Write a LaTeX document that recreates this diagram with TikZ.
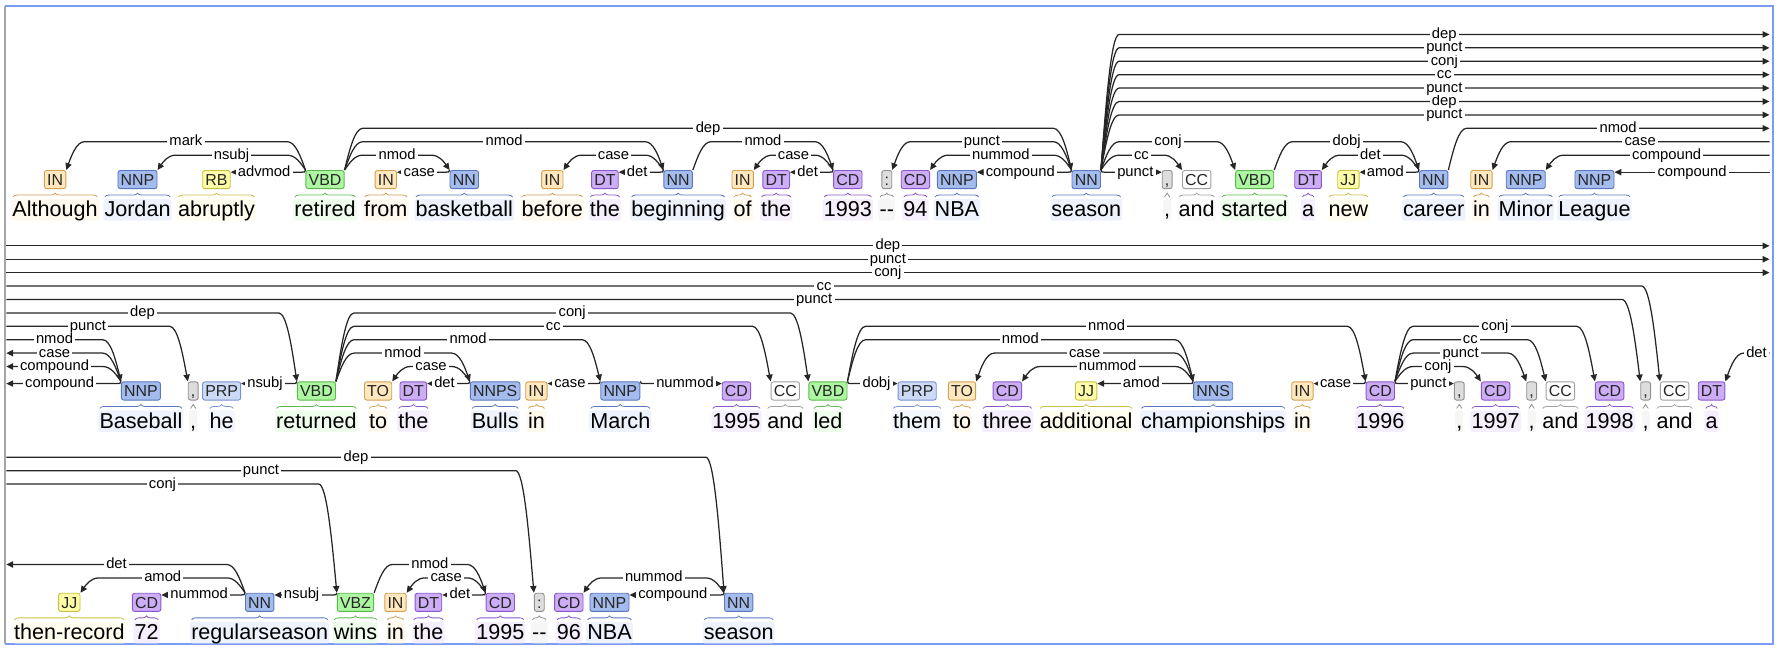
\documentclass[tikz,border=0pt]{standalone}
\usepackage{fontspec}
\setmainfont{Liberation Sans}
\usetikzlibrary{arrows.meta,calc,decorations.pathreplacing}
\definecolor{inF}{HTML}{FFE8BE}\definecolor{inD}{HTML}{D2A052}\definecolor{inW}{HTML}{FFF8EC}
\definecolor{nnF}{HTML}{A4BCED}\definecolor{nnD}{HTML}{5A76BE}\definecolor{nnW}{HTML}{EDF2FC}
\definecolor{prpF}{HTML}{CCDAF6}\definecolor{prpD}{HTML}{7890D0}\definecolor{prpW}{HTML}{F3F6FD}
\definecolor{vbF}{HTML}{ADF6A2}\definecolor{vbD}{HTML}{5CB84C}\definecolor{vbW}{HTML}{EEFDEC}
\definecolor{jjF}{HTML}{FFFDA8}\definecolor{jjD}{HTML}{C8C040}\definecolor{jjW}{HTML}{FFFEEE}
\definecolor{dtF}{HTML}{CCADF6}\definecolor{dtD}{HTML}{8858C8}\definecolor{dtW}{HTML}{F5EFFD}
\definecolor{puF}{HTML}{DDDDDD}\definecolor{puD}{HTML}{909090}\definecolor{puW}{HTML}{F6F6F6}
\definecolor{ccF}{HTML}{FFFFFF}\definecolor{ccD}{HTML}{A0A0A0}\definecolor{ccW}{HTML}{FAFAFA}
\definecolor{frame}{HTML}{7B9CF5}
\newcommand\deparc[4]{%
  \path ($(#1 |- 0,#3)!9pt!(#2 |- 0,#3)$) coordinate (hk) ($(#1 |- 0,#3)!16pt!(#2 |- 0,#3)$) coordinate (hs)
        ($(#2 |- 0,#3)!9pt!(#1 |- 0,#3)$) coordinate (dk) ($(#2 |- 0,#3)!16pt!(#1 |- 0,#3)$) coordinate (ds);
  \draw[arc] (#1) .. controls ($(#1)!0.5!(hk)$) and (hk) .. (hs) -- node[lab]{#4} (ds) .. controls (dk) and ($(#2)!0.5!(dk)$) .. (#2);}
\newcommand\outarc[4]{%
  \path ($(#1 |- 0,#3)!9pt!(#2 |- 0,#3)$) coordinate (hk) ($(#1 |- 0,#3)!16pt!(#2 |- 0,#3)$) coordinate (hs);
  \draw[arc] (#1) .. controls ($(#1)!0.5!(hk)$) and (hk) .. (hs) -- node[lab]{#4} (#2 |- 0,#3);}
\newcommand\inarc[4]{%
  \path ($(#2 |- 0,#3)!9pt!(#1 |- 0,#3)$) coordinate (dk) ($(#2 |- 0,#3)!16pt!(#1 |- 0,#3)$) coordinate (ds);
  \draw[arc] (#1 |- 0,#3) -- node[lab]{#4} (ds) .. controls (dk) and ($(#2)!0.5!(dk)$) .. (#2);}
\newcommand\lowarc[4]{\draw[arc] (#1) .. controls (#1 |- 0,#3) .. ($(#1 |- 0,#3)!7pt!(#2 |- 0,#3)$) -- node[lab]{#4} (#2 |- 0,#3);}
\begin{document}
\begin{tikzpicture}[x=1pt,y=-1pt,
    tag/.style={draw,rounded corners=2pt,line width=0.8pt,minimum height=16pt,inner xsep=2.4pt,inner ysep=0pt,text height=10pt,text depth=0pt,font=\fontsize{14}{14}\selectfont,text=black!85},
    word/.style={rounded corners=2pt,inner xsep=1pt,inner ysep=1.5pt,text height=14pt,text depth=2pt,anchor=base,font=\fontsize{19}{19}\selectfont},
    wbrace/.style={decorate,decoration={brace,amplitude=3.5pt},line width=0.7pt},
    arc/.style={draw=black!85,line width=1.1pt,-{Triangle[length=6pt,width=5.5pt]}},
    lab/.style={fill=white,inner xsep=2pt,inner ysep=0.5pt,text height=9.5pt,text depth=2.5pt,font=\fontsize{13}{13}\selectfont}]
    \useasboundingbox (0,0) rectangle (1568,574);
    \draw[frame,line width=1.7pt] (4,5) -- (1560,5) -- (1560,567) -- (4,567);
    \draw[black!35,line width=1.5pt] (4.4,5) -- (4.4,567);
    \coordinate (lft) at (5.5,0);
    \coordinate (rgt) at (1557,0);
    \foreach \n/\x/\p/\w/\cl in {1/48.5/IN/Although/in, 2/121/NNP/Jordan/nn, 3/190.5/RB/abruptly/jj,
        4/286/VBD/retired/vb, 5/339.5/IN/from/in, 6/408.5/NN/basketball/nn, 7/486/IN/before/in,
        8/532.3/DT/the/dt, 9/596.7/NN/beginning/nn, 10/653.5/IN/of/in, 11/683/DT/the/dt,
        12/746/CD/1993/dt, 13/780.3/:/{-{}-}/pu, 14/805.5/CD/94/dt, 15/842/NNP/NBA/nn,
        16/955.8/NN/season/nn, 17/1027/{,}/{,}/pu, 18/1053/CC/and/cc, 19/1104/VBD/started/vb,
        20/1151/DT/a/dt, 21/1186.5/JJ/new/jj, 22/1261.5/NN/career/nn, 23/1303.5/IN/in/in,
        24/1342.5/NNP/Minor/nn, 25/1403/NNP/League/nn} {
        \node[word,fill=\cl W] (wa\n) at (\x,190.6) {\w};
        \draw[wbrace,draw=\cl D] ($(wa\n.north west)+(1.5,-1.5)$) -- ($(wa\n.north east)+(-1.5,-1.5)$);
        \node[tag,fill=\cl F,draw=\cl D] (a\n) at (\x,158) {\p};
    }
    \foreach \n/\x/\p/\w/\cl in {1/124/NNP/Baseball/nn, 2/170/{,}/{,}/pu, 3/195/PRP/he/prp,
        4/278.4/VBD/returned/vb, 5/332.7/TO/to/in, 6/363.7/DT/the/dt, 7/435.7/NNPS/Bulls/nn,
        8/472/IN/in/in, 9/545.8/NNP/March/nn, 10/648/CD/1995/dt, 11/691/CC/and/cc,
        12/728.5/VBD/led/vb, 13/807/PRP/them/prp, 14/846.5/TO/to/in, 15/886.4/CD/three/dt,
        16/955.7/JJ/additional/jj, 17/1067.5/NNS/championships/nn, 18/1146/IN/in/in,
        19/1214.5/CD/1996/dt, 20/1284/{,}/{,}/pu, 21/1316/CD/1997/dt, 22/1347.7/{,}/{,}/pu,
        23/1373/CC/and/cc, 24/1416.3/CD/1998/dt, 25/1448/{,}/{,}/pu, 26/1473.5/CC/and/cc,
        27/1506/DT/a/dt} {
        \node[word,fill=\cl W] (wb\n) at (\x,376.6) {\w};
        \draw[wbrace,draw=\cl D] ($(wb\n.north west)+(1.5,-1.5)$) -- ($(wb\n.north east)+(-1.5,-1.5)$);
        \node[tag,fill=\cl F,draw=\cl D] (b\n) at (\x,344) {\p};
    }
    \foreach \n/\x/\p/\w/\cl in {1/61/JJ/then-record/jj, 2/129/CD/72/dt, 3/228.5/NN/regularseason/nn,
        4/312.8/VBZ/wins/vb, 5/348/IN/in/in, 6/377/DT/the/dt, 7/440.2/CD/1995/dt,
        8/474.5/:/{-{}-}/pu, 9/500.5/CD/96/dt, 10/536.3/NNP/NBA/nn, 11/650/NN/season/nn} {
        \node[word,fill=\cl W] (wc\n) at (\x,562.6) {\w};
        \draw[wbrace,draw=\cl D] ($(wc\n.north west)+(1.5,-1.5)$) -- ($(wc\n.north east)+(-1.5,-1.5)$);
        \node[tag,fill=\cl F,draw=\cl D] (c\n) at (\x,530) {\p};
    }
    \deparc{a4.north west}{a1.north east}{124.7}{mark}
    \deparc{a4.north west}{a2.north east}{136.5}{nsubj}
    \lowarc{a4.north west}{a3.east}{151.5}{advmod}
    \deparc{a4.north east}{a16.north west}{112.9}{dep}
    \deparc{a4.north east}{a9.north west}{124.7}{nmod}
    \deparc{a4.north east}{a6.north west}{136.5}{nmod}
    \lowarc{a6.north west}{a5.east}{151.5}{case}
    \deparc{a9.north west}{a7.north east}{136.5}{case}
    \lowarc{a9.north west}{a8.east}{151.5}{det}
    \deparc{a9.north east}{a12.north west}{124.7}{nmod}
    \deparc{a12.north west}{a10.north east}{136.5}{case}
    \lowarc{a12.north west}{a11.east}{151.5}{det}
    \deparc{a16.north west}{a13.north east}{124.7}{punct}
    \deparc{a16.north west}{a14.north east}{136.5}{nummod}
    \lowarc{a16.north west}{a15.east}{151.5}{compound}
    \lowarc{a16.north east}{a17.west}{151.5}{punct}
    \deparc{a16.north east}{a18.north west}{136.5}{cc}
    \deparc{a16.north east}{a19.north west}{124.7}{conj}
    \outarc{a16.north east}{rgt}{101.1}{punct}
    \outarc{a16.north east}{rgt}{89.3}{dep}
    \outarc{a16.north east}{rgt}{77.5}{punct}
    \outarc{a16.north east}{rgt}{65.7}{cc}
    \outarc{a16.north east}{rgt}{53.9}{conj}
    \outarc{a16.north east}{rgt}{42.1}{punct}
    \outarc{a16.north east}{rgt}{30.3}{dep}
    \deparc{a19.north east}{a22.north west}{124.7}{dobj}
    \deparc{a22.north west}{a20.north east}{136.5}{det}
    \lowarc{a22.north west}{a21.east}{151.5}{amod}
    \outarc{a22.north east}{rgt}{112.9}{nmod}
    \inarc{rgt}{a23.north east}{124.7}{case}
    \inarc{rgt}{a24.north east}{136.5}{compound}
    \draw[arc] (rgt |- 0,151.5) -- node[lab]{compound} (a25.east |- 0,151.5);
    \draw[arc] (lft |- 0,216.3) -- node[lab]{dep} (rgt |- 0,216.3);
    \draw[arc] (lft |- 0,228.1) -- node[lab]{punct} (rgt |- 0,228.1);
    \draw[arc] (lft |- 0,239.9) -- node[lab]{conj} (rgt |- 0,239.9);
    \inarc{lft}{b26.north west}{251.7}{cc}
    \inarc{lft}{b25.north west}{263.5}{punct}
    \inarc{lft}{b4.north west}{275.3}{dep}
    \inarc{lft}{b2.north west}{287.1}{punct}
    \inarc{lft}{b1.north west}{298.9}{nmod}
    \outarc{b1.north west}{lft}{310.7}{case}
    \outarc{b1.north west}{lft}{322.5}{compound}
    \lowarc{b1.north west}{lft}{337.5}{compound}
    \lowarc{b4.north west}{b3.east}{337.5}{nsubj}
    \deparc{b4.north east}{b12.north west}{275.3}{conj}
    \deparc{b4.north east}{b11.north west}{287.1}{cc}
    \deparc{b4.north east}{b9.north west}{298.9}{nmod}
    \deparc{b4.north east}{b7.north west}{310.7}{nmod}
    \deparc{b7.north west}{b5.north east}{322.5}{case}
    \lowarc{b7.north west}{b6.east}{337.5}{det}
    \lowarc{b9.north west}{b8.east}{337.5}{case}
    \lowarc{b9.north east}{b10.west}{337.5}{nummod}
    \lowarc{b12.north east}{b13.west}{337.5}{dobj}
    \deparc{b12.north east}{b19.north west}{287.1}{nmod}
    \deparc{b12.north east}{b17.north west}{298.9}{nmod}
    \deparc{b17.north west}{b14.north east}{310.7}{case}
    \deparc{b17.north west}{b15.north east}{322.5}{nummod}
    \lowarc{b17.north west}{b16.east}{337.5}{amod}
    \lowarc{b19.north west}{b18.east}{337.5}{case}
    \deparc{b19.north east}{b24.north west}{287.1}{conj}
    \deparc{b19.north east}{b23.north west}{298.9}{cc}
    \deparc{b19.north east}{b22.north west}{310.7}{punct}
    \deparc{b19.north east}{b21.north west}{322.5}{conj}
    \lowarc{b19.north east}{b20.west}{337.5}{punct}
    \inarc{rgt}{b27.north east}{310.7}{det}
    \inarc{lft}{c11.north west}{402.3}{dep}
    \inarc{lft}{c8.north west}{414.1}{punct}
    \inarc{lft}{c4.north west}{425.9}{conj}
    \outarc{c3.north west}{lft}{496.7}{det}
    \deparc{c3.north west}{c1.north east}{508.5}{amod}
    \lowarc{c3.north west}{c2.east}{523.5}{nummod}
    \lowarc{c4.north west}{c3.east}{523.5}{nsubj}
    \deparc{c4.north east}{c7.north west}{496.7}{nmod}
    \deparc{c7.north west}{c5.north east}{508.5}{case}
    \lowarc{c7.north west}{c6.east}{523.5}{det}
    \deparc{c11.north west}{c9.north east}{508.5}{nummod}
    \lowarc{c11.north west}{c10.east}{523.5}{compound}
\end{tikzpicture}
\end{document}
